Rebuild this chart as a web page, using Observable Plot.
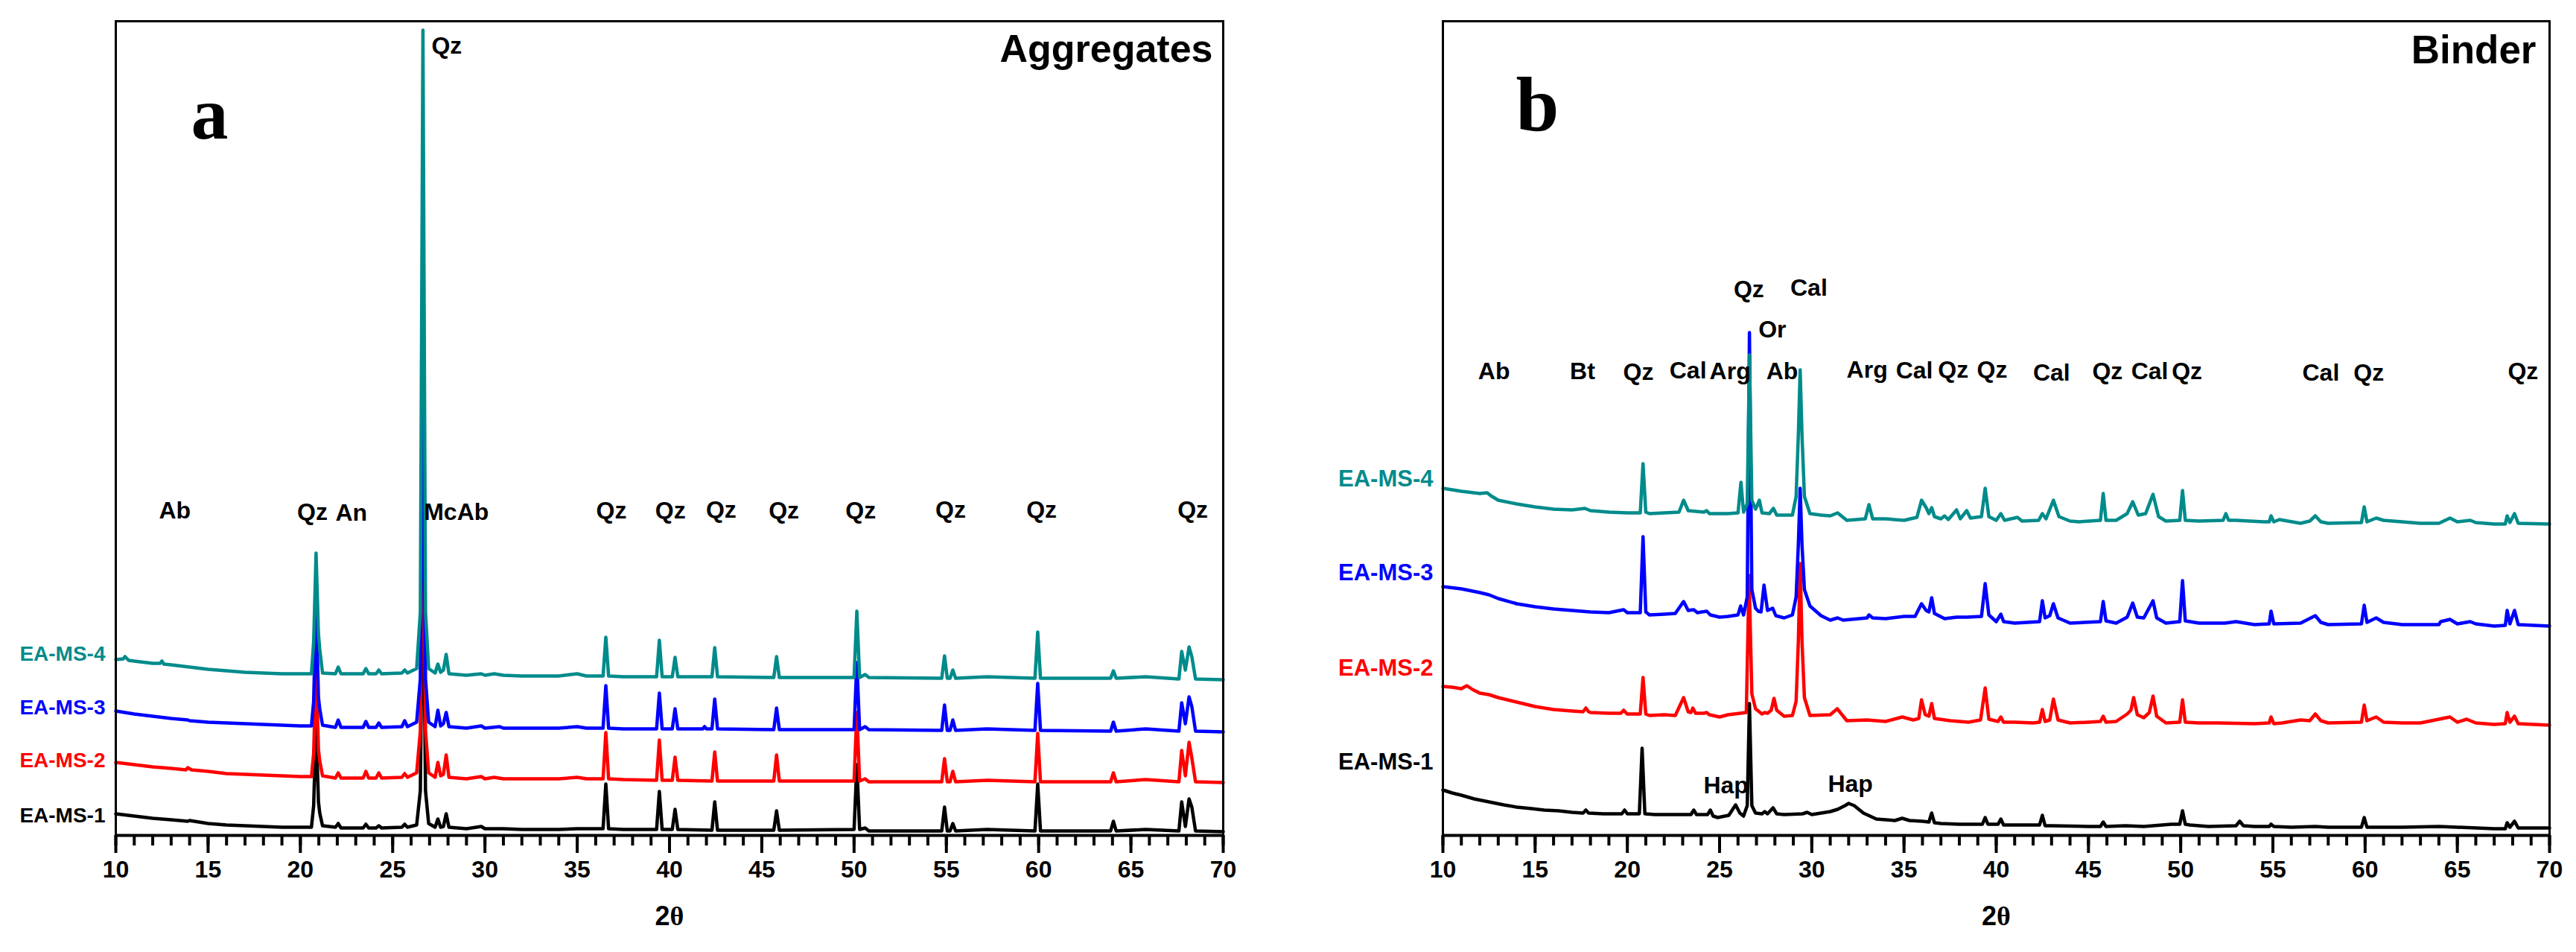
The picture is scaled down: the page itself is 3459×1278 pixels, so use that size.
<!DOCTYPE html>
<html>
<head>
<meta charset="utf-8">
<script src="https://cdn.jsdelivr.net/npm/d3@7"></script>
<script src="https://cdn.jsdelivr.net/npm/@observablehq/plot@0.6"></script>
<style>
  html, body { margin: 0; padding: 0; background: #ffffff; }
  #wrap { display: flex; flex-direction: row; width: 3459px; height: 1278px; }
  svg { display: block; }
</style>
</head>
<body>
<div id="wrap"><div id="pa"></div><div id="pb"></div></div>
<script>
// ---------- DATA (2θ in degrees, intensity in arbitrary units, stacked as drawn) ----------
const seriesNames = ["EA-MS-1", "EA-MS-2", "EA-MS-3", "EA-MS-4"];
const seriesColors = ["#000000", "#ff0000", "#0000ff", "#008b8b"];
const xMajorTicks = [10, 15, 20, 25, 30, 35, 40, 45, 50, 55, 60, 65, 70];
const xMinorTicks = d3.range(10, 71, 1);

// Panel a: Aggregates
const aggEAMS1 = [[10,29],[11,26],[12,23],[13,21],[13.9,19],[14,20],[15,16],[16,14],[17,13],[18,12],[19,11],[20,11],[20.6,11],[20.72,40],[20.85,150],[20.98,45],[21.05,30],[21.2,13],[21.9,11],[22.05,16],[22.2,10],[23.4,10],[23.55,15],[23.7,10],[24.1,10],[24.25,13],[24.4,10],[25.5,11],[25.65,15],[25.8,11],[26.3,14],[26.5,60],[26.64,400],[26.78,60],[26.95,16],[27.3,11],[27.45,22],[27.6,11],[27.75,12],[27.9,29],[28.05,11],[29,9],[29.8,12],[30,9],[31,9],[32,8],[34,8],[35,9],[35.5,9],[36.4,9],[36.55,69],[36.7,9],[37.5,8],[39.3,8],[39.45,59],[39.6,8],[40.15,8],[40.3,35],[40.45,8],[42.3,7],[42.45,45],[42.6,7],[45.65,7],[45.8,33],[45.95,7],[50.0,8],[50.15,95],[50.3,8],[50.6,10],[50.8,6],[54.75,6],[54.9,38],[55.05,6],[55.2,6],[55.35,16],[55.5,6],[57.2,8],[59.8,6],[59.95,69],[60.1,6],[63.9,6],[64.05,19],[64.2,6],[65.8,8],[67.6,6],[67.75,45],[67.95,12],[68.15,49],[68.3,38],[68.5,6],[70,5]];
const aggEAMS2 = [[10,98],[11,95],[12,92],[13,90],[13.8,88],[13.9,91],[14.1,88],[15,86],[16,83],[17,82],[18,81],[19,80],[20,79],[20.6,79],[20.72,110],[20.85,230],[20.98,115],[21.05,100],[21.2,80],[21.9,77],[22.05,84],[22.2,77],[23.4,77],[23.55,86],[23.7,77],[24.1,77],[24.25,84],[24.4,77],[25.5,78],[25.65,83],[25.8,78],[26.3,84],[26.5,140],[26.64,500],[26.78,140],[26.95,84],[27.3,78],[27.45,98],[27.6,80],[27.75,82],[27.9,108],[28.05,78],[29,76],[29.8,79],[30,76],[30.5,78],[31,76],[32,76],[34,76],[35,78],[35.5,76],[36.4,76],[36.55,138],[36.7,76],[37.5,75],[39.3,74],[39.45,128],[39.6,74],[40.15,74],[40.3,105],[40.45,74],[42.3,73],[42.45,112],[42.6,73],[45.65,73],[45.8,108],[45.95,73],[50.0,73],[50.15,165],[50.3,73],[50.6,76],[50.8,72],[54.75,72],[54.9,103],[55.05,72],[55.2,72],[55.35,86],[55.5,72],[57.2,74],[59.8,72],[59.95,137],[60.1,72],[63.9,72],[64.05,84],[64.2,72],[65.8,75],[67.6,72],[67.75,114],[67.95,80],[68.15,125],[68.3,104],[68.5,72],[70,71]];
const aggEAMS3 = [[10,167],[11,163],[12,160],[13,157],[13.9,155],[14,154],[15,152],[16,151],[17,150],[18,149],[19,148],[20,147],[20.6,147],[20.72,180],[20.85,310],[20.98,185],[21.05,170],[21.2,148],[21.9,145],[22.05,155],[22.2,145],[23.4,145],[23.55,153],[23.7,145],[24.1,145],[24.25,151],[24.4,145],[25.5,146],[25.65,154],[25.8,146],[26.3,152],[26.5,210],[26.64,600],[26.78,210],[26.95,152],[27.3,146],[27.45,168],[27.6,147],[27.75,150],[27.9,165],[28.05,146],[29,144],[29.8,147],[30,144],[30.8,146],[31,144],[32,144],[34,144],[35,146],[35.5,144],[36.4,144],[36.55,201],[36.7,144],[37.5,143],[39.3,143],[39.45,191],[39.6,143],[40.15,143],[40.3,170],[40.45,143],[41.8,143],[41.9,146],[42.0,143],[42.3,143],[42.45,183],[42.6,143],[45.65,142],[45.8,171],[45.95,142],[50.0,142],[50.15,232],[50.3,142],[50.6,146],[50.8,142],[54.75,141],[54.9,175],[55.05,141],[55.2,141],[55.35,155],[55.5,141],[57.2,143],[59.8,141],[59.95,204],[60.1,141],[63.9,140],[64.05,152],[64.2,140],[65.8,143],[67.6,140],[67.75,178],[67.95,150],[68.15,186],[68.3,173],[68.5,140],[70,139]];
const aggEAMS4 = [[10,236],[10.4,237],[10.5,240],[10.7,235],[11,234],[12,231],[12.4,231],[12.5,234],[12.6,230],[13,229],[14,226],[15,223],[16,221],[17,219],[18,218],[19,217],[20,217],[20.6,217],[20.72,260],[20.85,379],[20.98,270],[21.05,250],[21.2,218],[21.9,217],[22.05,226],[22.2,217],[23.4,217],[23.55,224],[23.7,217],[24.1,217],[24.25,222],[24.4,217],[25.5,218],[25.65,222],[25.8,218],[26.3,224],[26.5,300],[26.64,1081],[26.78,300],[26.95,224],[27.3,218],[27.45,230],[27.6,219],[27.75,222],[27.9,243],[28.05,217],[29,215],[29.8,217],[30,215],[30.5,217],[31,215],[32,214],[34,214],[35,217],[35.5,214],[36.4,214],[36.55,266],[36.7,214],[37.5,213],[39.3,213],[39.45,262],[39.6,213],[40.15,213],[40.3,239],[40.45,213],[42.3,213],[42.45,252],[42.6,213],[45.65,212],[45.8,240],[45.95,212],[50.0,212],[50.15,301],[50.3,212],[50.6,216],[50.8,212],[54.75,211],[54.9,241],[55.05,211],[55.2,211],[55.35,222],[55.5,211],[57.2,213],[59.8,211],[59.95,273],[60.1,211],[63.9,211],[64.05,221],[64.2,211],[65.8,213],[67.6,210],[67.75,247],[67.95,222],[68.15,253],[68.3,240],[68.5,210],[70,209]];

// Panel b: Binder
const binEAMS1 = [[10,61],[10.5,57],[11,54],[11.7,49],[12.5,45],[13.3,41],[14,38],[14.8,36],[15.5,34],[16.3,33],[17,31],[17.6,30],[17.75,34],[17.9,30],[18.7,29],[19.45,29],[19.7,29],[19.85,34],[20.0,29],[20.65,29],[20.8,117],[20.95,29],[21.5,28],[22.5,28],[23.45,28],[23.6,34],[23.75,28],[24.35,28],[24.5,34],[24.65,26],[24.9,24],[25.5,27],[25.87,41],[26.1,30],[26.3,26],[26.5,40],[26.62,177],[26.75,40],[26.95,30],[27.3,29],[27.45,32],[27.6,29],[27.9,37],[28.1,29],[28.5,28],[29.5,29],[29.75,31],[30,28],[31,32],[31.4,35],[31.8,40],[32.0,43],[32.3,40],[32.8,30],[33.5,22],[34.5,20],[34.9,23],[35.3,20],[36,19],[36.35,18],[36.5,30],[36.65,17],[37,16],[38,15],[39.25,15],[39.4,24],[39.55,15],[40.1,15],[40.25,22],[40.4,14],[41,14],[42.35,14],[42.5,27],[42.65,13],[43,13],[45,12],[45.65,12],[45.8,18],[45.95,12],[47,13],[48,12],[49.5,15],[49.95,15],[50.1,33],[50.25,15],[50.5,14],[51.5,12],[53,13],[53.2,19],[53.4,13],[54,12],[54.8,12],[54.9,15],[55.05,12],[56,11],[57.3,12],[58,11],[59.8,11],[59.95,24],[60.1,11],[61,11],[62,11],[64,12],[65,11],[67,9],[67.6,9],[67.7,17],[67.85,11],[68.1,19],[68.3,10],[70,10]];
const binEAMS2 = [[10,200],[10.5,199],[11,197],[11.3,201],[11.6,196],[12,191],[12.5,189],[13,185],[14,179],[15,173],[16,169],[17,167],[17.6,166],[17.75,171],[17.9,166],[18,165],[19,164],[19.65,164],[19.8,168],[19.95,164],[20,163],[20.7,163],[20.85,212],[21.0,163],[21.2,161],[22,162],[22.6,161],[23.05,185],[23.3,166],[23.45,165],[23.55,171],[23.7,164],[24.15,164],[24.3,165],[24.45,162],[25,159],[25.46,162],[26.45,165],[26.6,349],[26.75,190],[26.95,170],[27.3,163],[27.45,165],[27.6,164],[27.8,168],[27.95,184],[28.1,168],[28.5,160],[28.95,161],[29.15,180],[29.27,260],[29.37,365],[29.47,260],[29.6,185],[29.9,161],[31,162],[31.38,170],[31.9,154],[33,155],[34,153],[34.9,159],[35.5,155],[35.8,157],[35.95,182],[36.15,162],[36.35,160],[36.5,177],[36.65,157],[37.5,154],[38.5,152],[39.15,155],[39.4,198],[39.6,156],[40.1,153],[40.25,159],[40.4,152],[41,152],[42,151],[42.35,152],[42.5,169],[42.65,153],[42.9,155],[43.1,183],[43.35,155],[44,151],[45,152],[45.65,153],[45.8,160],[45.95,152],[46.5,153],[47.1,163],[47.3,168],[47.45,185],[47.65,162],[48,158],[48.3,165],[48.5,187],[48.7,160],[49.2,151],[49.95,152],[50.1,182],[50.25,152],[51,151],[52,151],[54,150],[54.8,151],[54.9,159],[55.05,150],[55.5,151],[56.5,155],[57.0,154],[57.3,163],[57.6,154],[58,151],[59.8,152],[59.95,175],[60.1,154],[60.6,159],[61,152],[62,151],[63,151],[64.6,159],[65,152],[65.5,156],[66,151],[67,149],[67.6,150],[67.7,165],[67.85,152],[68.1,160],[68.3,150],[70,148]];
const binEAMS3 = [[10,334],[11,331],[12,326],[12.5,323],[13,318],[14,311],[15,307],[16,304],[17,302],[18,300],[19,299],[19.8,303],[20,299],[20.7,299],[20.85,401],[21.0,300],[21.2,296],[22,297],[22.6,298],[23.05,314],[23.3,302],[23.6,303],[23.8,299],[24.3,301],[24.5,296],[25,293],[25.46,294],[26.0,296],[26.14,308],[26.3,296],[26.5,320],[26.62,675],[26.75,330],[26.95,305],[27.1,301],[27.25,300],[27.41,336],[27.6,302],[27.88,305],[28.05,295],[28.5,292],[28.95,296],[29.15,320],[29.27,390],[29.37,466],[29.47,390],[29.6,330],[29.9,308],[30.5,295],[31,289],[31.4,292],[31.7,289],[33,292],[33.1,296],[33.3,292],[34,291],[35,294],[35.6,294],[35.95,311],[36.2,302],[36.35,300],[36.5,319],[36.65,298],[37.2,291],[37.85,293],[38.4,293],[39.2,294],[39.4,338],[39.6,296],[40.0,287],[40.25,297],[40.4,287],[41,285],[42.35,287],[42.5,315],[42.65,292],[42.9,295],[43.1,311],[43.35,292],[44,285],[45.65,287],[45.8,314],[45.95,288],[46.5,285],[47.1,293],[47.4,312],[47.65,293],[48,292],[48.5,315],[48.7,292],[49.2,285],[49.95,287],[50.1,342],[50.25,288],[51,285],[52.4,285],[53,287],[54,283],[54.8,284],[54.9,301],[55.05,284],[56.5,285],[57.3,295],[57.6,286],[58,283],[59.8,284],[59.95,309],[60.1,286],[60.6,292],[61,286],[62,283],[64,283],[64.1,287],[64.6,290],[65.0,284],[65.7,287],[66,284],[67,281],[67.6,282],[67.7,302],[67.85,284],[68.1,302],[68.3,283],[70,281]];
const binEAMS4 = [[10,466],[11,462],[12,459],[12.4,460],[12.6,456],[13,450],[14,445],[15,441],[16,438],[17,437],[17.7,439],[18,436],[19,434],[20,433],[20.7,433],[20.85,499],[21.0,434],[21.2,432],[22,433],[22.8,434],[23.05,450],[23.3,436],[24.15,434],[24.3,436],[24.45,432],[25,432],[25.46,432],[26.0,433],[26.16,474],[26.3,434],[26.5,445],[26.62,645],[26.75,450],[26.95,438],[27.16,450],[27.3,433],[27.7,432],[27.92,439],[28.1,430],[28.95,430],[29.15,455],[29.27,537],[29.37,625],[29.47,537],[29.6,455],[29.9,432],[30.5,430],[31,429],[31.4,433],[31.9,423],[32.9,425],[33.1,444],[33.3,425],[34,425],[35,423],[35.7,427],[35.95,450],[36.2,440],[36.35,432],[36.5,440],[36.65,428],[37.0,425],[37.2,429],[37.4,424],[37.85,437],[38.05,425],[38.4,436],[38.6,426],[39.2,428],[39.4,466],[39.6,428],[40.0,423],[40.25,432],[40.45,423],[41.15,427],[41.4,422],[42.3,423],[42.5,432],[42.7,425],[43.1,450],[43.4,428],[44,422],[44.5,421],[45.65,423],[45.8,459],[45.95,423],[46.5,423],[47.1,432],[47.4,448],[47.7,430],[48.1,432],[48.5,458],[48.8,428],[49.2,422],[49.95,423],[50.1,463],[50.25,423],[51,422],[52.3,423],[52.45,432],[52.6,423],[53,423],[54.5,421],[54.8,421],[54.9,429],[55.05,421],[55.35,424],[56.5,419],[57.0,422],[57.3,429],[57.6,421],[58,419],[59.8,420],[59.95,441],[60.1,421],[60.6,426],[61,423],[62,421],[63,419],[64,419],[64.6,426],[65.0,421],[65.7,423],[66,420],[67,418],[67.6,418],[67.7,429],[67.85,420],[68.1,432],[68.3,419],[70,418]];

// Mineral peak labels: [label, 2θ, intensity level]
const aggPeakLabels = [["Ab",13.2,436],["Qz",20.65,434],["An",22.76,433],["McAb",28.45,434],["Qz",36.85,436],["Qz",40.05,436],["Qz",42.8,437],["Qz",46.2,436],["Qz",50.36,436],["Qz",55.23,437],["Qz",60.16,437],["Qz",68.35,437],["Qz",27.93,1060]];
const binPeakLabels = [["Ab",12.77,623],["Bt",17.57,623],["Qz",20.6,622],["Cal",23.29,624],["Arg",25.57,623],["Ab",28.39,623],["Arg",33.0,625],["Cal",35.56,624],["Qz",37.67,625],["Qz",39.78,625],["Cal",43.0,621],["Qz",46.03,623],["Cal",48.32,623],["Qz",50.34,623],["Cal",57.6,621],["Qz",60.2,621],["Qz",68.56,623],["Qz",26.59,733],["Cal",29.84,735],["Or",27.86,679],["Hap",25.35,67],["Hap",32.09,69]];

// Series name labels: intensity level of each label (EA-MS-1..4)
const aggSeriesLabelY = [26, 100, 171, 243];
const binSeriesLabelY = [98, 224, 352, 478];

const panelLetters = ["a", "b"];
const panelTitles = ["Aggregates", "Binder"];
const xLabel = "2θ";

// ---------- BUILD ----------
const SANS = "'Liberation Sans', Arial, Helvetica, sans-serif";
const SERIF = "'Liberation Serif', 'Times New Roman', serif";

function toRows(arrs) {
  const rows = [];
  arrs.forEach((arr, i) => arr.forEach(([x, y]) => rows.push({x, y, s: seriesNames[i]})));
  return rows;
}

function panel({width, marginLeft, marginRight, data, peakLabels, labelY, letter, title, letterDx, letterDy, letterSize, titleDx, titleDy, titleSize, seriesFont, seriesDx}) {
  const rows = toRows(data);
  const seriesLbl = seriesNames.map((n, i) => ({name: n, y: labelY[i], c: seriesColors[i]}));
  const pk = peakLabels.map(([label, x, y]) => ({label, x, y}));
  const plot = Plot.plot({
    width, height: 1278,
    marginLeft, marginRight, marginTop: 28, marginBottom: 157,
    style: {fontFamily: SANS, background: "white", overflow: "visible"},
    x: {domain: [10, 70]},
    y: {domain: [0, 1093], axis: null},
    color: {domain: seriesNames, range: seriesColors},
    marks: [
      Plot.line(rows, {x: "x", y: "y", z: "s", stroke: "s", strokeWidth: 4.5, strokeLinejoin: "round", strokeLinecap: "round"}),
      Plot.frame({stroke: "black", strokeWidth: 3}),
      Plot.ruleY([0], {stroke: "black", strokeWidth: 4}),
      Plot.axisX({ticks: xMinorTicks, tickSize: 14, tickFormat: () => "", strokeWidth: 4, label: null}),
      Plot.axisX({ticks: xMajorTicks, tickSize: 24, tickPadding: 10, strokeWidth: 4, fontSize: 32, fontWeight: "bold", fill: "black", label: null, tickFormat: d => String(d)}),
      Plot.text(pk, {x: "x", y: "y", text: "label", fontSize: 32, fontWeight: "bold", fill: "black"}),
      Plot.text(seriesLbl, {y: "y", text: "name", frameAnchor: "left", textAnchor: "end", dx: seriesDx, fill: "c", fontSize: seriesFont, fontWeight: "bold"}),
      Plot.text([letter], {text: d => d, frameAnchor: "top-left", lineAnchor: "top", dx: letterDx, dy: letterDy, fontSize: letterSize, fontWeight: "bold", fontFamily: SERIF, fill: "black"}),
      Plot.text([title], {text: d => d, frameAnchor: "top-right", textAnchor: "end", lineAnchor: "top", dx: titleDx, dy: titleDy, fontSize: titleSize, fontWeight: "bold", fill: "black"}),
      Plot.text([xLabel], {text: d => d, frameAnchor: "bottom", dy: 120, fontSize: 36, fontWeight: "bold", fill: "black"})
    ]
  });
  // render θ in a serif face like the original
  d3.select(plot).selectAll("text").each(function() {
    if (this.textContent === xLabel) {
      const t = d3.select(this);
      t.text(null);
      t.append("tspan").text("2");
      t.append("tspan").attr("font-family", SERIF).text("θ");
    }
  });
  return plot;
}

document.getElementById("pa").appendChild(panel({
  width: 1729, marginLeft: 155, marginRight: 87,
  data: [aggEAMS1, aggEAMS2, aggEAMS3, aggEAMS4],
  peakLabels: aggPeakLabels, labelY: aggSeriesLabelY,
  letter: panelLetters[0], title: panelTitles[0],
  letterDx: 101, letterDy: 86, letterSize: 100,
  titleDx: -14, titleDy: 18, titleSize: 52,
  seriesFont: 28, seriesDx: -14
}));
document.getElementById("pb").appendChild(panel({
  width: 1730, marginLeft: 208, marginRight: 36,
  data: [binEAMS1, binEAMS2, binEAMS3, binEAMS4],
  peakLabels: binPeakLabels, labelY: binSeriesLabelY,
  letter: panelLetters[1], title: panelTitles[1],
  letterDx: 98, letterDy: 73, letterSize: 104,
  titleDx: -18, titleDy: 19, titleSize: 53,
  seriesFont: 31, seriesDx: -13
}));
</script>
</body>
</html>
